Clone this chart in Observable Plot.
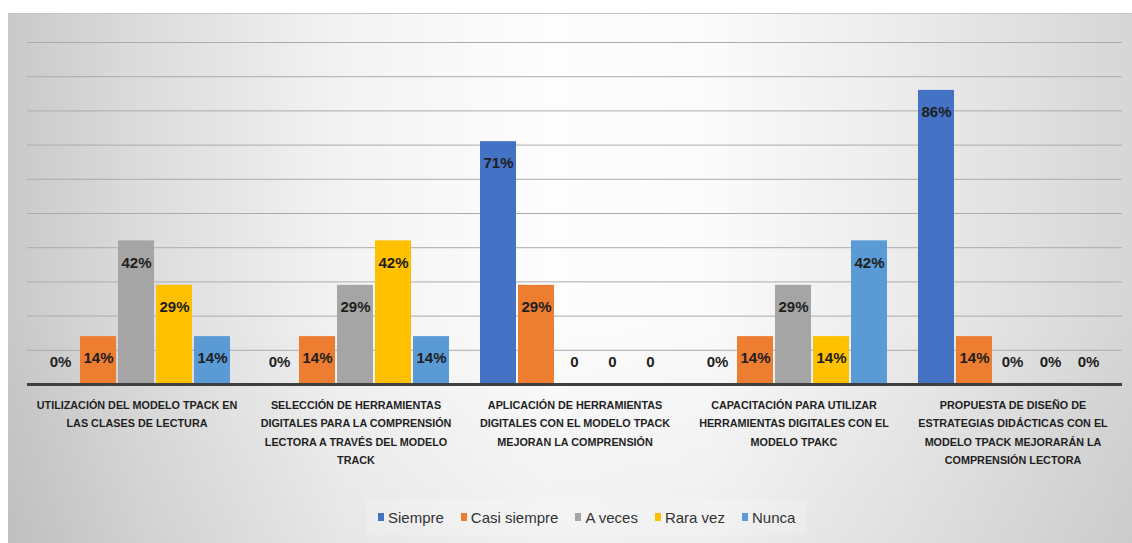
<!DOCTYPE html>
<html>
<head>
<meta charset="utf-8">
<script src="https://cdn.jsdelivr.net/npm/d3@7"></script>
<script src="https://cdn.jsdelivr.net/npm/@observablehq/plot@0.6"></script>
<style>
  html, body { margin: 0; padding: 0; background: #ffffff; }
  #frame {
    position: absolute; left: 8px; top: 13px; width: 1124px; height: 530px;
    border-top: 1px solid #c4c4c4;
    background:
      linear-gradient(to bottom, rgba(0,0,0,0) 55%, rgba(0,0,0,0.05) 100%),
      linear-gradient(to right, #c9c9c9 0%, #dcdcdc 12%, #f3f3f3 30%, #fdfdfd 48%, #fbfbfb 62%, #ebebeb 80%, #d6d6d6 100%);
    overflow: hidden;
  }
  #chart svg { display: block; }
  #legend {
    position: absolute; left: 358px; top: 485px; height: 36px;
    display: flex; align-items: center; gap: 17px;
    padding: 0 12px;
    background: rgba(255,255,255,0.18);
    font-family: "Liberation Sans", Arial, sans-serif; font-size: 15px; color: #333;
  }
  .item { display: flex; align-items: center; gap: 4px; }
  .sw { width: 6px; height: 8px; display: inline-block; }
</style>
</head>
<body>
<div id="frame">
  <div id="chart"></div>
  <div id="legend"></div>
</div>
<script>
const categories = [
  "UTILIZACIÓN DEL MODELO TPACK EN\nLAS CLASES DE LECTURA",
  "SELECCIÓN DE HERRAMIENTAS\nDIGITALES PARA LA COMPRENSIÓN\nLECTORA A TRAVÉS DEL MODELO\nTRACK",
  "APLICACIÓN DE HERRAMIENTAS\nDIGITALES CON EL MODELO TPACK\nMEJORAN LA COMPRENSIÓN",
  "CAPACITACIÓN PARA UTILIZAR\nHERRAMIENTAS DIGITALES CON EL\nMODELO TPAKC",
  "PROPUESTA DE DISEÑO DE\nESTRATEGIAS DIDÁCTICAS CON EL\nMODELO TPACK MEJORARÁN LA\nCOMPRENSIÓN LECTORA"
];
const series = ["Siempre", "Casi siempre", "A veces", "Rara vez", "Nunca"];
const colors = ["#4472C4", "#ED7D31", "#A5A5A5", "#FFC000", "#5B9BD5"];

const siempre     = [0, 0, 71, 0, 86];
const casiSiempre = [14, 14, 29, 14, 14];
const aVeces      = [42, 29, 0, 29, 0];
const raraVez     = [29, 42, 0, 14, 0];
const nunca       = [14, 14, 0, 42, 0];

const labelsSiempre     = ["0%", "0%", "71%", "0%", "86%"];
const labelsCasiSiempre = ["14%", "14%", "29%", "14%", "14%"];
const labelsAVeces      = ["42%", "29%", "0", "29%", "0%"];
const labelsRaraVez     = ["29%", "42%", "0", "14%", "0%"];
const labelsNunca       = ["14%", "14%", "0", "42%", "0%"];

const gridTicks = [10, 20, 30, 40, 50, 60, 70, 80, 90, 100];

const values = [siempre, casiSiempre, aVeces, raraVez, nunca];
const labels = [labelsSiempre, labelsCasiSiempre, labelsAVeces, labelsRaraVez, labelsNunca];
const data = categories.flatMap((c, i) => series.map((s, j) => ({
  cat: c, series: s, value: values[j][i], label: labels[j][i]
})));

const chart = Plot.plot({
  width: 1124,
  height: 472,
  marginLeft: 20,
  marginRight: 10,
  marginTop: 28,
  marginBottom: 102,
  style: { background: "transparent", overflow: "visible" },
  fx: { domain: categories, paddingInner: 0.126, paddingOuter: 0.06, axis: null, label: null },
  x: { domain: series, paddingInner: 0.04, paddingOuter: 0, axis: null },
  y: { domain: [0, 100], axis: null },
  color: { domain: series, range: colors },
  marks: [
    Plot.ruleY(gridTicks, { stroke: "#acacac", strokeWidth: 1, insetLeft: -14, insetRight: -14 }),
    Plot.barY(data, { fx: "cat", x: "series", y: "value", fill: "series" }),
    Plot.ruleY([0], { stroke: "#3f3f3f", strokeWidth: 3, insetLeft: -14, insetRight: -14 }),
    Plot.text(data, {
      filter: d => d.value > 0, fx: "cat", x: "series", y: "value", text: "label",
      dy: 22, fill: "#1e1e1e", fontWeight: "bold", fontSize: 15,
      fontFamily: "Liberation Sans, Arial, sans-serif"
    }),
    Plot.text(data, {
      filter: d => d.value === 0, fx: "cat", x: "series", y: "value", text: "label",
      dy: -22, fill: "#1e1e1e", fontWeight: "bold", fontSize: 15,
      fontFamily: "Liberation Sans, Arial, sans-serif"
    }),
    Plot.text(categories, {
      fx: d => d, text: d => d, frameAnchor: "bottom", lineAnchor: "top",
      dy: 11, lineHeight: 1.72, fontWeight: "bold", fontSize: 10.8, fill: "#1f1f1f",
      fontFamily: "Liberation Sans, Arial, sans-serif"
    })
  ]
});
document.getElementById("chart").appendChild(chart);

const legend = document.getElementById("legend");
series.forEach((s, i) => {
  const item = document.createElement("span");
  item.className = "item";
  const sw = document.createElement("span");
  sw.className = "sw";
  sw.style.background = colors[i];
  const t = document.createElement("span");
  t.textContent = s;
  item.appendChild(sw);
  item.appendChild(t);
  legend.appendChild(item);
});
</script>
</body>
</html>
